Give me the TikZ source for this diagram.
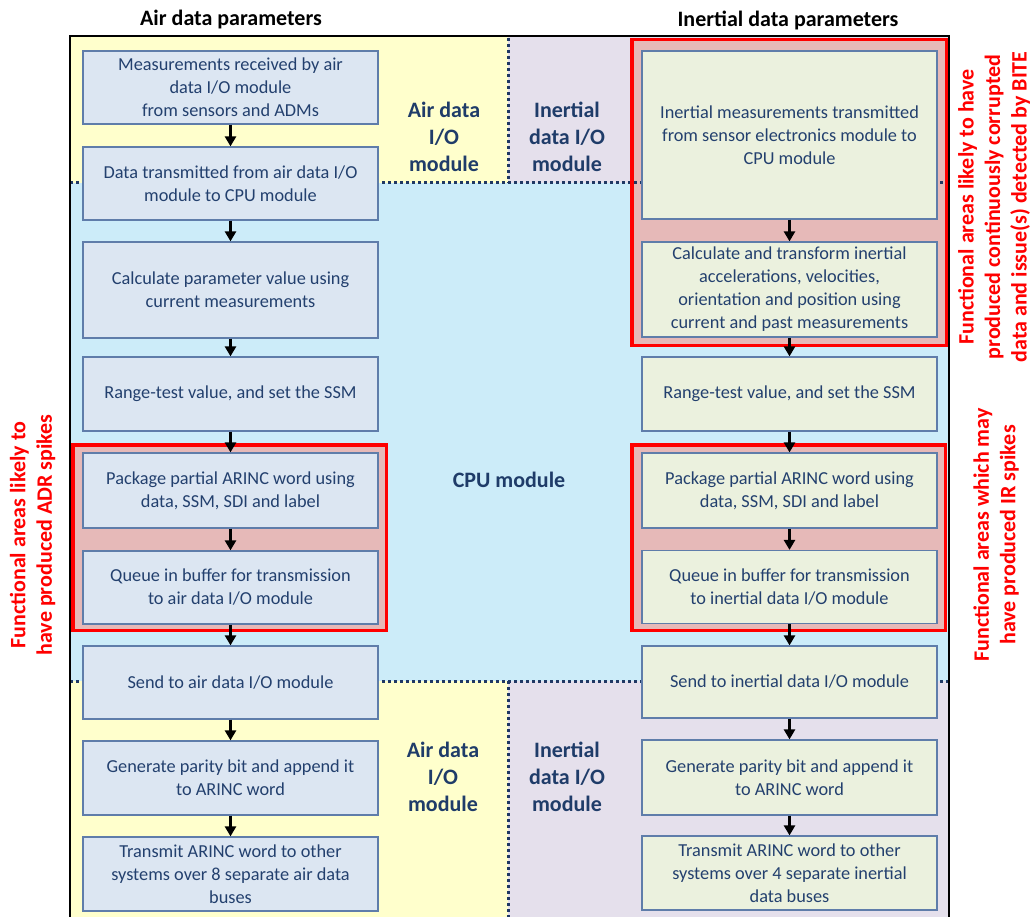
\documentclass[tikz,border=0pt]{standalone}
\usepackage{fontspec}
\setmainfont{Carlito}
\usetikzlibrary{arrows.meta}
\definecolor{ybg}{RGB}{255,255,204}
\definecolor{pbg}{RGB}{229,224,236}
\definecolor{cbg}{RGB}{204,236,249}
\definecolor{lfill}{RGB}{220,230,242}
\definecolor{rfill}{RGB}{235,241,222}
\definecolor{bbord}{RGB}{95,125,170}
\definecolor{btext}{RGB}{35,64,110}
\definecolor{lbl}{RGB}{31,60,105}
\definecolor{dotc}{RGB}{31,56,100}
\definecolor{redfill}{RGB}{230,185,184}
\definecolor{redc}{RGB}{255,0,0}
\tikzset{
  flow/.style={draw=bbord, line width=1.2pt, text=btext, align=center, minimum width=295pt, inner sep=2pt, font=\fontsize{18.3}{23}\selectfont},
  lb/.style={flow, fill=lfill},
  rb/.style={flow, fill=rfill},
  zone/.style={text=lbl, align=center, font=\bfseries\fontsize{22}{27}\selectfont},
  head/.style={font=\bfseries\fontsize{22}{27}\selectfont},
  note/.style={text=redc, align=center, rotate=90, font=\bfseries\fontsize{22}{26.5}\selectfont},
  redline/.style={draw=redc, line width=3.5pt},
  divider/.style={draw=dotc, line width=3pt, dash pattern=on 3pt off 3pt},
  arr/.style={-{Triangle[length=10pt,width=11pt]}, line width=3pt, black},
}
\begin{document}
\begin{tikzpicture}[x=1pt,y=-1pt]
\useasboundingbox (0,0) rectangle (1032,917);
% zone backgrounds
\fill[ybg] (70,36) rectangle (508,183);
\fill[pbg] (508,36) rectangle (949,183);
\fill[cbg] (70,183) rectangle (949,681);
\fill[ybg] (70,681) rectangle (508,917);
\fill[pbg] (508,681) rectangle (949,917);
% red highlight fills
\fill[redfill] (72.75,444.75) rectangle (386.25,630.25);
\fill[redfill] (631.75,444.75) rectangle (945.25,630.25);
\fill[redfill] (631.75,39.75) rectangle (946.25,345.25);
% dotted dividers
\draw[divider] (70,183) -- (949,183);
\draw[divider] (70,681) -- (949,681);
\draw[divider] (508,38) -- (508,183);
\draw[divider] (508,681) -- (508,917);
% frame
\draw[line width=1.2pt] (70,917) -- (70,36) -- (949,36) -- (949,917);
% red borders
\draw[redline] (72.75,444.75) rectangle (386.25,630.25);
\draw[redline] (631.75,444.75) rectangle (945.25,630.25);
\draw[redline] (631.75,39.75) rectangle (946.25,345.25);
% headings
\node[head] (h1) at (231,20) {Air data parameters};
\node[head] (h2) at (788,20) {Inertial data parameters};
% zone labels
\node[zone] (z1) at (444,137) {Air data\\I/O\\module};
\node[zone] (z2) at (567,137) {Inertial\\data I/O\\module};
\node[zone] (z3) at (509,480) {CPU module};
\node[zone] (z4) at (443,777) {Air data\\I/O\\module};
\node[zone] (z5) at (567,777) {Inertial\\data I/O\\module};
% left column
\node[lb, minimum height=73pt] (L1) at (230.5,87.5) {Measurements received by air\\data I/O module\\from sensors and ADMs};
\node[lb, minimum height=73pt] (L2) at (230.5,183.5) {Data transmitted from air data I/O\\module to CPU module};
\node[lb, minimum height=96pt] (L3) at (230.5,290) {Calculate parameter value using\\current measurements};
\node[lb, minimum height=74pt] (L4) at (230.5,394) {Range-test value, and set the SSM};
\node[lb, minimum height=75pt] (L5) at (230.5,490.5) {Package partial ARINC word using\\data, SSM, SDI and label};
\node[lb, minimum height=73pt] (L6) at (230.5,587.5) {Queue in buffer for transmission\\to air data I/O module};
\node[lb, minimum height=73pt] (L7) at (230.5,682.5) {Send to air data I/O module};
\node[lb, minimum height=74pt] (L8) at (230.5,778) {Generate parity bit and append it\\to ARINC word};
\node[lb, minimum height=74pt] (L9) at (230.5,874) {Transmit ARINC word to other\\systems over 8 separate air data\\buses};
% right column
\node[rb, minimum height=168pt] (R1) at (789.5,135) {Inertial measurements transmitted\\from sensor electronics module to\\CPU module};
\node[rb, minimum height=95pt] (R2) at (789.5,289.5) {Calculate and transform inertial\\accelerations, velocities,\\orientation and position using\\current and past measurements};
\node[rb, minimum height=74pt] (R3) at (789.5,394) {Range-test value, and set the SSM};
\node[rb, minimum height=75pt] (R4) at (789.5,490.5) {Package partial ARINC word using\\data, SSM, SDI and label};
\node[rb, minimum height=73pt] (R5) at (789.5,587) {Queue in buffer for transmission\\to inertial data I/O module};
\node[rb, minimum height=72pt] (R6) at (789.5,682) {Send to inertial data I/O module};
\node[rb, minimum height=75pt] (R7) at (789.5,777.5) {Generate parity bit and append it\\to ARINC word};
\node[rb, minimum height=74pt] (R8) at (789.5,873) {Transmit ARINC word to other\\systems over 4 separate inertial\\data buses};
% arrows
\foreach \a/\b in {L1/L2,L2/L3,L3/L4,L4/L5,L5/L6,L6/L7,L7/L8,L8/L9,R1/R2,R2/R3,R3/R4,R4/R5,R5/R6,R6/R7,R7/R8}
  \draw[arr] (\a.south) -- (\b.north);
% red notes
\node[note] (n1) at (32.5,535) {Functional areas likely to\\have produced ADR spikes};
\node[note] (n2) at (994,207) {Functional areas likely to have\\produced continuously corrupted\\data and issue(s) detected by BITE};
\node[note] (n3) at (996,535) {Functional areas which may\\have produced IR spikes};
\end{tikzpicture}
\end{document}
